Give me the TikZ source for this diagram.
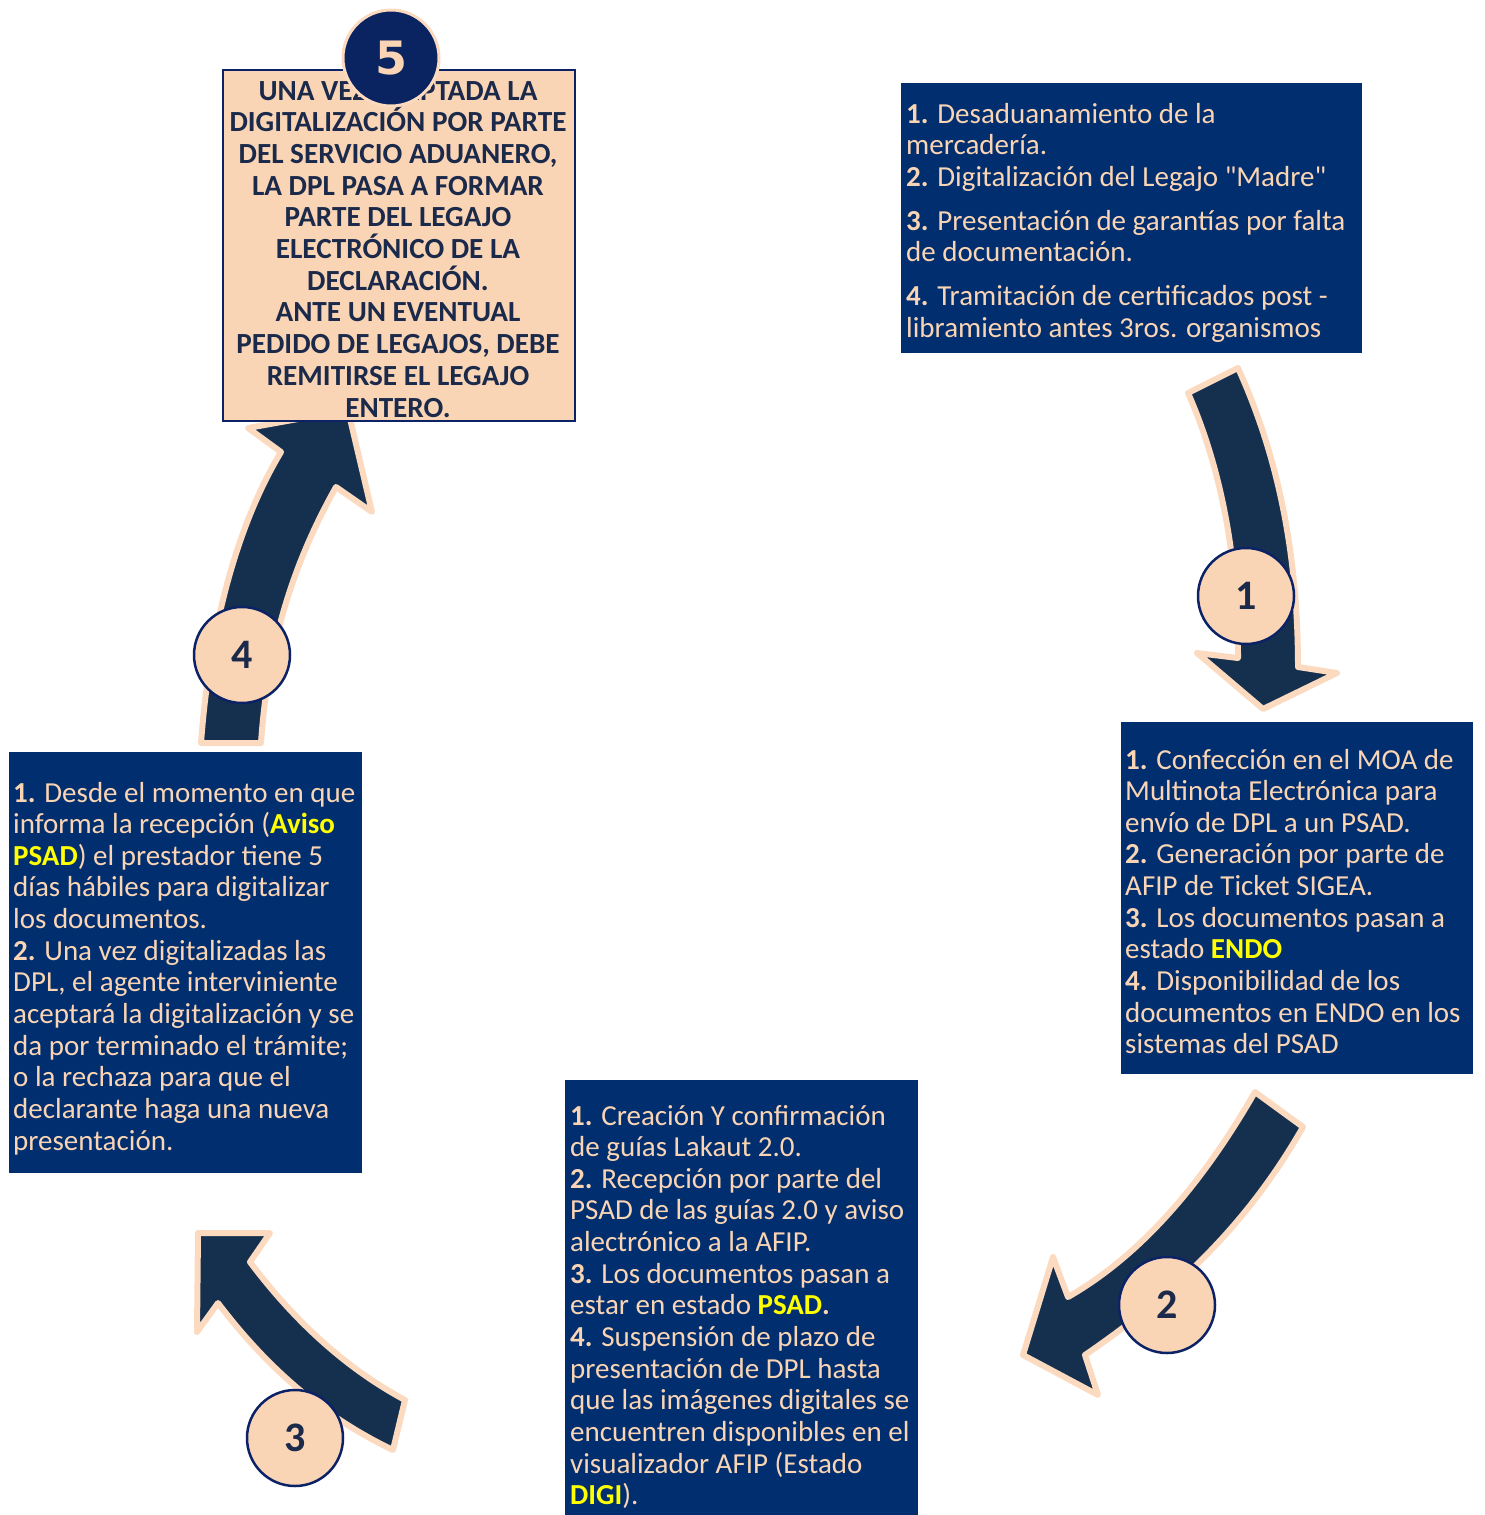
\documentclass[tikz,border=0pt]{standalone}
\usepackage{fontspec}
\setmainfont{Carlito}[Ligatures=TeXOff]
\newfontfamily\numfont{DejaVu Sans}[Ligatures=TeXOff]
\definecolor{navybox}{HTML}{002E6E}
\definecolor{arrowfill}{HTML}{15304F}
\definecolor{peach}{HTML}{FAD5B5}
\definecolor{peachline}{HTML}{FBDAC0}
\definecolor{darktext}{HTML}{1B2A4A}
\definecolor{circline}{HTML}{0B2266}
\definecolor{circfive}{HTML}{0A2361}
\definecolor{hl}{HTML}{FFFF00}
\newcommand\yb[1]{\textcolor{hl}{\textbf{#1}}}
\newcommand\nb[1]{\textbf{#1}}
\begin{document}
\begin{tikzpicture}[x=1pt,y=-1pt,
  blockarrow/.style={fill=arrowfill,draw=peachline,line width=6pt,line join=round},
  navyrect/.style={fill=navybox,draw=none,inner sep=0,anchor=north west},
  peachrect/.style={fill=peach,draw=circline,line width=2pt,inner sep=0,anchor=north west},
  bodytext/.style={anchor=base west,inner sep=0,text=peach,font=\fontsize{29}{31.65}\selectfont},
  numcirc/.style={circle,fill=peach,draw=circline,line width=2.5pt,minimum size=96pt,inner sep=0,
    text=darktext,font=\fontsize{42}{42}\selectfont\bfseries}]
\useasboundingbox (0,0) rectangle (1485,1515);

% ---- block arrows ----
% arrow 1 (down, right side)
\draw[blockarrow] (1188,393) -- (1238,368)
  .. controls (1280,460) and (1298,560) .. (1298,667)
  -- (1337,673) -- (1263,709) -- (1197,653) -- (1238,658)
  .. controls (1238,560) and (1222,470) .. (1188,393) -- cycle;
% arrow 2 (down-left)
\draw[blockarrow] (1255,1092) -- (1303,1127)
  .. controls (1250,1220) and (1180,1290) .. (1085,1355)
  -- (1098,1395) -- (1023,1355) -- (1053,1257) -- (1068,1297)
  .. controls (1150,1250) and (1210,1170) .. (1255,1092) -- cycle;
% arrow 3 (up-left)
\draw[blockarrow] (405,1400)
  .. controls (340,1365) and (290,1315) .. (250,1262)
  -- (270,1233) -- (198,1233) -- (197,1332) -- (218,1303)
  .. controls (265,1365) and (320,1415) .. (393,1450) -- cycle;
% arrow 4 (up-right)
\draw[blockarrow] (201,743) -- (261,743)
  .. controls (268,640) and (295,560) .. (336,487)
  -- (372,512) -- (348,410) -- (248,428) -- (281,452)
  .. controls (240,520) and (210,620) .. (201,743) -- cycle;

% ---- boxes ----
\node[navyrect,minimum width=461pt,minimum height=270pt] (boxA) at (901,83) {};
\node[navyrect,minimum width=352pt,minimum height=352pt] (boxB) at (1121,722) {};
\node[navyrect,minimum width=353pt,minimum height=440pt] (boxC) at (565,1080) {};
\node[navyrect,minimum width=353pt,minimum height=421pt] (boxD) at (9,752) {};
\node[peachrect,minimum width=352pt,minimum height=351pt] (boxE) at (222,69) {};

% ---- texts ----
\node[bodytext] (txtA) at (906,123) {\parbox[t]{460pt}{\raggedright
\nb{1.} Desaduanamiento de la\\
mercadería.\\
\nb{2.} Digitalización del Legajo "Madre"\\[12.3pt]
\nb{3.} Presentación de garantías por falta\\
de documentación.\\[12.3pt]
\nb{4.} Tramitación de certificados post -\\
libramiento antes 3ros. organismos}};

\node[bodytext] (txtB) at (1125,769) {\parbox[t]{360pt}{\raggedright
\nb{1.} Confección en el MOA de\\
Multinota Electrónica para\\
envío de DPL a un PSAD.\\
\nb{2.} Generación por parte de\\
AFIP de Ticket SIGEA.\\
\nb{3.} Los documentos pasan a\\
estado \yb{ENDO}\\
\nb{4.} Disponibilidad de los\\
documentos en ENDO en los\\
sistemas del PSAD}};

\node[bodytext] (txtC) at (570,1125) {\parbox[t]{360pt}{\raggedright
\nb{1.} Creación Y confirmación\\
de guías Lakaut 2.0.\\
\nb{2.} Recepción por parte del\\
PSAD de las guías 2.0 y aviso\\
alectrónico a la AFIP.\\
\nb{3.} Los documentos pasan a\\
estar en estado \yb{PSAD}\nb{.}\\
\nb{4.} Suspensión de plazo de\\
presentación de DPL hasta\\
que las imágenes digitales se\\
encuentren disponibles en el\\
visualizador AFIP (Estado\\
\yb{DIGI}).}};

\node[bodytext] (txtD) at (13,802) {\parbox[t]{360pt}{\raggedright
\nb{1.} Desde el momento en que\\
informa la recepción (\yb{Aviso}\\
\yb{PSAD}) el prestador tiene 5\\
días hábiles para digitalizar\\
los documentos.\\
\nb{2.} Una vez digitalizadas las\\
DPL, el agente interviniente\\
aceptará la digitalización y se\\
da por terminado el trámite;\\
o la rechaza para que el\\
declarante haga una nueva\\
presentación.}};

\node[anchor=base,inner sep=0,text=darktext,font=\fontsize{29.2}{31.7}\selectfont\bfseries] (txtE) at (398,100)
{\parbox[t]{350pt}{\centering
UNA VEZ ACEPTADA LA\\
DIGITALIZACIÓN POR PARTE\\
DEL SERVICIO ADUANERO,\\
LA DPL PASA A FORMAR\\
PARTE DEL LEGAJO\\
ELECTRÓNICO DE LA\\
DECLARACIÓN.\\
ANTE UN EVENTUAL\\
PEDIDO DE LEGAJOS, DEBE\\
REMITIRSE EL LEGAJO\\
ENTERO.}};

% ---- number circles ----
\node[numcirc] (c1) at (1246,596) {1};
\node[numcirc] (c2) at (1167,1305) {2};
\node[numcirc] (c3) at (295,1438) {3};
\node[numcirc] (c4) at (242,655) {4};
\node[circle,fill=circfive,draw=peachline,line width=3pt,minimum size=96pt,inner sep=0,
  text=peach,font=\numfont\fontsize{46}{46}\selectfont\bfseries] (c5) at (391,58) {5};
\end{tikzpicture}
\end{document}
